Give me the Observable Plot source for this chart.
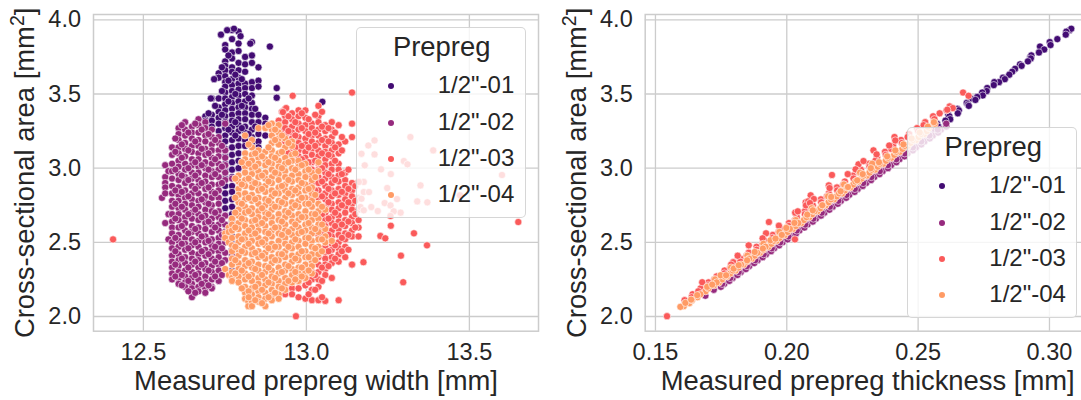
<!DOCTYPE html>
<html><head><meta charset="utf-8">
<script src="https://cdn.jsdelivr.net/npm/d3@7"></script>
<script src="https://cdn.jsdelivr.net/npm/@observablehq/plot@0.6"></script>
<style>
html,body{margin:0;padding:0;background:#fff}
#fig{position:relative;width:1081px;height:400px;overflow:hidden;font-family:"Liberation Sans",Arial,sans-serif;color:#262626}
#fig svg{position:absolute;top:0;overflow:visible}
.legend{position:absolute;width:170px;height:191px;box-sizing:border-box;background:rgba(255,255,255,.8);border:1.3px solid rgba(204,204,204,.8);border-radius:5px}
.legend .t{position:absolute;left:0;width:170px;text-align:center;top:3px;font-size:27.4px;line-height:32px}
.legend .d{position:absolute;left:31px;width:6px;height:6px;border-radius:50%;box-shadow:0 0 0 .6px #fff}
.legend .l{position:absolute;left:81px;font-size:24px;line-height:28px;white-space:nowrap}
</style></head><body><div id="fig"></div>
<script>
const names = ['1/2"-01','1/2"-02','1/2"-03','1/2"-04'];
const colors = ["#430c73","#962a7e","#fa5a5a","#ff9b65"];
const xLabelL = "Measured prepreg width [mm]";
const xLabelR = "Measured prepreg thickness [mm]";
const yLabel = "Cross-sectional area [mm²]";
const legendTitle = "Prepreg";
const yTicks = [2,2.5,3,3.5,4];
const xTicksL = [12.5,13,13.5];
const xTicksR = [0.15,0.2,0.25,0.3];

// width columns (mm) with the areas (mm2) read in each column
const width01 = [12.669,12.690,12.710,12.731,12.751,12.772,12.792,12.812,12.833,12.853,12.874];
const area01 = [
[3.33],[3.35,3.32,3.30],[3.47,3.36,3.32,3.28],
[3.64,3.61,3.47,3.41,3.38,3.34,3.30,3.25,3.20],
[3.83,3.80,3.72,3.69,3.66,3.62,3.58,3.55,3.51,3.47,3.43,3.39,3.35,3.31,3.27,3.22,3.18,3.13,3.08,3.03,2.98,2.93,2.88,2.83,2.78,2.73,2.68,2.62],
[3.93,3.87,3.78,3.74,3.68,3.65,3.60,3.56,3.52,3.48,3.44,3.40,3.36,3.32,3.28,3.24,3.19,3.14,3.09,3.04,2.99,2.94,2.88,2.84,2.79,2.74,2.69,2.65,2.60,2.54,2.49,2.45,2.40,2.31],
[3.92,3.84,3.79,3.71,3.66,3.61,3.57,3.53,3.49,3.45,3.41,3.37,3.33,3.29,3.25,3.20,3.15,3.10,3.05,3.00],
[3.75,3.70,3.65,3.57,3.54,3.50,3.45,3.41,3.37,3.33,3.28,3.24,3.19,3.15],
[3.85,3.76,3.71,3.58,3.54,3.49,3.44,3.40,3.36,3.31,3.26,3.21,3.17],
[3.68,3.59,3.55,3.36,3.31,3.23,3.18,3.14],[3.34,3.30,3.22]];
const extra01 = [[12.738,3.90],[12.757,3.93],[12.778,3.94],[12.798,3.89],[12.828,3.84],[12.888,3.82],[12.717,3.60],[12.909,3.54],[12.909,3.475],[12.707,3.47],[13.049,3.447],[12.741,3.52],[12.761,3.45],[12.782,3.50],[12.802,3.42],[12.823,3.47],[12.741,3.36],[12.720,3.42],[12.700,3.37],[12.782,3.31],[12.802,3.27],[12.823,3.23],[12.843,3.40],[12.843,3.28],[12.761,3.26],[12.782,3.22],[12.761,3.59],[12.782,3.63],[12.802,3.60],[12.741,3.68],[12.761,3.76]];

const width02 = [12.557,12.567,12.577,12.588,12.608,12.628,12.649,12.669,12.690,12.710,12.731,12.751,12.772,12.598,12.618,12.638,12.659,12.679,12.700,12.720,12.741];
const area02 = [
[2.80],[3.02,2.94,2.90,2.87,2.83,2.63],[2.98,2.69,2.52],
[3.14,3.09,3.03,2.98,2.93,2.88,2.83,2.78,2.74,2.69,2.64,2.60,2.56,2.50,2.46,2.41,2.37,2.33,2.29,2.25],
[3.27,3.23,3.19,3.14,3.10,3.05,3.01,2.96,2.92,2.87,2.82,2.78,2.73,2.69,2.65,2.60,2.55,2.51,2.47,2.42,2.38,2.34,2.30,2.26,2.22],
[3.31,3.26,3.22,3.17,3.13,3.08,3.03,2.99,2.94,2.90,2.85,2.80,2.76,2.72,2.67,2.63,2.58,2.53,2.49,2.45,2.40,2.36,2.31,2.27,2.23,2.20],
[3.28,3.24,3.20,3.15,3.11,3.06,3.02,2.97,2.93,2.88,2.83,2.79,2.75,2.70,2.66,2.61,2.57,2.52,2.48,2.43,2.39,2.35,2.30,2.26,2.22,2.19,2.13],
[3.33,3.29,3.24,3.19,3.15,3.10,3.06,3.01,2.97,2.92,2.88,2.83,2.78,2.74,2.69,2.65,2.60,2.56,2.51,2.47,2.42,2.38,2.33,2.29,2.25,2.20,2.17],
[3.31,3.27,3.22,3.18,3.13,3.09,3.04,3.00,2.95,2.91,2.86,2.81,2.77,2.72,2.68,2.63,2.59,2.54,2.50,2.45,2.41,2.36,2.32,2.27,2.23,2.19,2.16],
[3.26,3.21,3.16,3.12,3.07,3.03,2.98,2.94,2.89,2.84,2.80,2.75,2.71,2.66,2.62,2.57,2.52,2.48,2.44,2.39,2.34,2.30,2.25,2.20,2.19],
[3.21,3.17,3.12,3.08,3.03,2.99,2.94,2.89,2.85,2.80,2.76,2.71,2.67,2.62,2.58,2.53,2.49,2.44,2.40,2.35,2.31,2.24],
[3.30,3.12,3.07,3.02,2.97,2.92,2.68,2.62,2.57,2.50,2.43,2.38],
[2.93,2.42],
[3.20,3.11,2.99,2.85,2.76,2.66,2.53,2.44,2.35,2.27],
[3.29,3.16,3.07,2.95,2.84,2.74,2.61,2.49,2.39,2.28,2.21],
[3.24,3.12,3.00,2.92,2.81,2.69,2.56,2.46,2.33,2.24,2.17],
[3.30,3.18,3.04,2.95,2.86,2.72,2.59,2.50,2.37,2.28,2.16],
[3.26,3.13,3.02,2.90,2.79,2.67,2.54,2.44,2.35,2.22],
[3.23,3.10,2.99,2.87,2.76,2.64,2.51,2.42,2.31,2.21],
[3.19,3.06,2.96,2.83,2.70,2.60,2.47,2.37,2.27],
[3.15,3.01,2.90,2.65,2.55,2.46,2.36,2.28]];

const width03 = [12.915,12.925,12.935,12.956,12.976,12.997,13.017,13.037,13.058,13.078,13.099,13.119,13.140,13.160,12.945,12.966,12.986,13.007,13.027,13.048,13.068,13.088,13.109,13.129,13.150];
const area03 = [
[3.32,3.27,3.23,3.18,2.98],[3.38,3.29,3.24],
[3.40,3.35,3.31,3.27,3.22,3.18,3.13,3.09,2.22,2.18,2.15],
[3.37,3.33,3.28,3.24,3.20,3.15,3.11,3.06,2.23,2.19,2.15],
[3.39,3.35,3.30,3.26,3.21,3.17,3.12,3.08,3.03,2.24,2.19,2.13],
[3.39,3.34,3.29,3.25,3.20,3.16,3.11,3.07,3.02,2.97,2.26,2.21,2.12],
[3.30,3.27,3.22,3.18,3.13,3.09,3.04,2.99,2.95,2.90,2.85,2.80,2.30,2.25,2.18,2.11],
[3.42,3.35,3.31,3.26,3.22,3.17,3.12,3.08,3.03,2.99,2.94,2.90,2.85,2.80,2.76,2.71,2.66,2.60,2.55,2.40,2.35,2.30,2.25,2.20,2.11],
[3.29,3.25,3.20,3.15,3.11,3.06,3.02,2.97,2.93,2.88,2.83,2.79,2.74,2.70,2.65,2.61,2.56,2.51,2.47,2.43,2.39,2.35,2.32,2.28,2.105],
[3.31,3.26,3.21,3.17,3.12,3.08,3.03,2.99,2.94,2.90,2.85,2.81,2.76,2.72,2.67,2.63,2.58,2.54,2.49,2.45,2.40,2.36,2.26],
[3.29,3.16,3.10,3.03,2.99,2.95,2.91,2.86,2.82,2.77,2.73,2.68,2.64,2.59,2.55,2.50,2.46,2.42,2.37,2.11],
[3.18,2.97,2.92,2.88,2.83,2.79,2.74,2.70,2.65,2.61,2.56,2.52,2.47,2.40],
[3.51,3.30,3.21,2.90,2.85,2.81,2.76,2.72,2.67,2.63,2.58,2.54,2.35],
[2.80,2.72,2.65,2.60,2.54],
[3.35,3.25,3.16,3.10],[3.31,3.22,3.14],[3.37,3.27,3.15,3.06],[3.33,3.23,3.14,3.04,2.23,2.15],[3.36,3.24,3.15,3.05,2.94,2.85,2.28,2.18],
[3.38,3.28,3.19,3.10,3.00,2.91,2.81,2.69,2.57,2.33,2.24,2.13],[3.27,3.18,3.09,2.96,2.86,2.77,2.66,2.55,2.44,2.34],[3.24,3.14,3.05,2.92,2.83,2.70,2.61,2.48,2.39],
[3.21,3.12,2.96,2.84,2.75,2.62,2.53,2.44],[2.99,2.86,2.77,2.64,2.55,2.45],[2.88,2.78,2.69,2.60]];
const extra03 = [[12.407,2.52],[12.968,2.002],[12.958,3.488],[12.938,3.405],[12.928,3.378],[13.209,3.187],[13.190,3.153],[13.319,3.210],[13.169,3.097],[13.209,3.093],[13.389,3.120],[13.179,3.019],[13.299,3.048],[13.310,3.026],[13.229,2.992],[13.259,2.960],[13.600,2.954],[13.350,2.884],[13.248,2.866],[13.176,2.839],[13.192,2.839],[13.278,2.792],[13.240,2.765],[13.258,2.749],[13.289,2.700],[13.268,2.709],[13.258,2.678],[13.340,2.776],[13.371,2.770],[13.199,2.738],[13.219,2.711],[13.169,2.794],[13.471,2.817],[13.166,2.738],[13.176,2.716],[13.176,2.907],[13.161,2.907],[13.259,2.612],[13.330,2.561],[13.650,2.637],[13.227,2.543],[13.297,2.231],[13.242,2.527],[13.290,2.41],[13.175,2.366],[13.14,2.35],[13.37,2.48]];

const width04 = [12.751,12.762,12.772,12.792,12.812,12.822,12.833,12.853,12.874,12.894,12.915,12.935,12.956,12.976,12.997,13.017,13.037,13.058,13.078,12.782,12.802,12.823,12.843,12.864,12.884,12.904,12.925,12.945,12.966,12.986,13.007,13.027,13.048];
const area04 = [
[2.56,2.53,2.32],[2.60,2.57,2.50,2.28],
[2.66,2.62,2.58,2.53,2.48,2.44,2.39,2.35,2.30,2.26,2.24],
[2.95,2.91,2.86,2.82,2.77,2.72,2.68,2.63,2.59,2.54,2.50,2.45,2.41,2.36,2.32,2.27,2.23],
[3.22,3.10,3.06,3.01,2.97,2.92,2.88,2.83,2.79,2.74,2.70,2.65,2.61,2.56,2.52,2.47,2.43,2.38,2.34,2.29,2.25,2.20,2.16,2.12],
[2.10,2.07],
[3.19,3.14,3.09,3.05,3.00,2.96,2.91,2.87,2.82,2.78,2.73,2.69,2.64,2.60,2.55,2.51,2.46,2.42,2.37,2.33,2.28,2.24,2.19,2.15,2.10,2.07],
[3.27,3.12,3.07,3.03,2.98,2.94,2.89,2.85,2.80,2.76,2.71,2.67,2.62,2.58,2.53,2.49,2.44,2.40,2.35,2.31,2.26,2.22,2.17,2.13,2.10],
[3.27,3.11,3.06,3.02,2.97,2.93,2.88,2.84,2.79,2.75,2.70,2.66,2.61,2.57,2.52,2.48,2.43,2.39,2.34,2.30,2.25,2.21,2.16,2.12,2.07],
[3.30,3.26,3.22,3.17,3.12,3.08,3.03,2.99,2.94,2.90,2.85,2.81,2.76,2.72,2.67,2.63,2.58,2.54,2.49,2.45,2.40,2.36,2.31,2.27,2.22,2.18,2.14,2.11],
[3.29,3.24,3.20,3.16,3.10,3.05,3.01,2.96,2.92,2.87,2.83,2.78,2.74,2.69,2.65,2.60,2.56,2.51,2.47,2.42,2.38,2.33,2.29,2.24,2.20,2.15,2.12],
[3.20,3.14,3.07,3.03,2.98,2.94,2.89,2.85,2.80,2.76,2.71,2.67,2.62,2.58,2.53,2.49,2.44,2.40,2.35,2.31,2.26,2.22,2.18],
[3.18,3.15,3.09,3.05,3.00,2.95,2.91,2.86,2.82,2.77,2.73,2.68,2.64,2.59,2.55,2.50,2.46,2.41,2.37,2.32,2.28,2.23],
[3.05,3.01,2.96,2.92,2.87,2.83,2.78,2.74,2.69,2.65,2.60,2.56,2.51,2.47,2.42,2.38,2.33,2.29,2.24],
[3.03,2.98,2.94,2.89,2.85,2.80,2.76,2.71,2.67,2.62,2.58,2.53,2.49,2.44,2.40,2.35,2.30,2.26],
[2.97,2.92,2.87,2.83,2.78,2.74,2.69,2.65,2.60,2.56,2.51,2.47,2.42,2.37,2.34,2.29],
[3.04,2.98,2.76,2.71,2.66,2.62,2.57,2.52,2.47,2.42],
[2.72,2.59,2.54,2.50],[2.51],
[2.93,2.80,2.70,2.60,2.47,2.38,2.29],
[3.04,2.89,2.76,2.66,2.52,2.44,2.31,2.19],
[3.16,3.03,2.93,2.80,2.71,2.58,2.49,2.36,2.27,2.17,2.13],
[3.10,3.01,2.90,2.79,2.65,2.56,2.43,2.32,2.20,2.11],
[3.08,2.95,2.86,2.73,2.63,2.50,2.41,2.28,2.18,2.09],
[3.29,3.14,3.04,2.91,2.78,2.69,2.56,2.46,2.33,2.23,2.13],
[3.26,3.19,3.07,2.97,2.83,2.74,2.60,2.47,2.38,2.26,2.16],
[3.22,3.11,3.00,2.88,2.77,2.64,2.55,2.42,2.30,2.19],
[3.17,3.04,2.92,2.83,2.70,2.57,2.47,2.34,2.24],
[3.10,2.99,2.85,2.75,2.62,2.52,2.39,2.30,2.25],
[3.02,2.90,2.80,2.67,2.57,2.44,2.33,2.27],
[2.99,2.86,2.76,2.63,2.53,2.40,2.31],
[2.94,2.82,2.69,2.59,2.46,2.38],
[2.74,2.62,2.52,2.44]];

// thickness (mm), area (mm2) pairs of the right panel
const thick01 = [[.3077,3.93],[.3083,3.94],[.3064,3.92],[.3030,3.87],[.3062,3.90],[.3001,3.85],[.2964,3.82],[.3004,3.83],[.2980,3.80],[.2960,3.78],[.2927,3.75],[.2931,3.76],[.2929,3.74],[.2918,3.72],[.2888,3.70],[.2894,3.69],[.2869,3.67],[.2858,3.65],[.2847,3.63],[.2823,3.61],[.2830,3.60],[.2808,3.58],[.2790,3.58],[.2788,3.56],[.2763,3.54],[.2761,3.52],[.2744,3.51],[.2746,3.49],[.2725,3.48],[.2700,3.47],[.2718,3.46],[.2685,3.44],[.2690,3.43],[.2693,3.42],[.2650,3.40],[.2655,3.39],[.2651,3.37],[.2615,3.36],[.2619,3.35],[.2622,3.33],[.2604,3.32],[.2572,3.30],[.2577,3.28],[.2549,3.26],[.2541,3.24],[.2506,3.21],[.2490,3.18],[.2471,3.15],[.2424,3.10],[.2392,3.05],[.2349,3.00],[.2271,2.90],[.2196,2.80],[.2114,2.70]];
const thick02 = [[.1745,2.22],[.1777,2.26],[.1808,2.30],[.1840,2.34],[.1871,2.38],[.1903,2.42],[.1934,2.46],[.1965,2.50],[.1997,2.54],[.2028,2.58],[.2060,2.62],[.2091,2.66],[.2123,2.70],[.2154,2.74],[.2186,2.78],[.2217,2.82],[.2248,2.86],[.2280,2.90],[.2311,2.94],[.2343,2.98],[.2374,3.02],[.2406,3.06],[.2437,3.10],[.2469,3.14],[.2500,3.18],[.2531,3.22],[.2563,3.26],
[.1762,2.22],[.1794,2.26],[.1825,2.30],[.1857,2.34],[.1889,2.38],[.1921,2.42],[.1952,2.46],[.1984,2.50],[.2016,2.54],[.2048,2.58],[.2079,2.62],[.2111,2.66],[.2143,2.70],[.2175,2.74],[.2206,2.78],[.2238,2.82],[.2270,2.86],[.2302,2.90],[.2333,2.94],[.2365,2.98],[.2397,3.02],[.2429,3.06],[.2460,3.10],[.2492,3.14],[.2524,3.18],[.2556,3.22],[.2587,3.26],
[.1749,2.20],[.1781,2.24],[.1812,2.28],[.1844,2.32],[.1876,2.36],[.1908,2.40],[.1940,2.44],[.1971,2.48],[.2003,2.52],[.2035,2.56],[.2067,2.60],[.2099,2.64],[.2130,2.68],[.2162,2.72],[.2194,2.76],[.2226,2.80],[.2258,2.84],[.2289,2.88],[.2321,2.92],[.2353,2.96],[.2385,3.00],[.2417,3.04],[.2448,3.08],[.2480,3.12],[.2512,3.16],[.2544,3.20],[.2576,3.24],[.2607,3.28],
[.1690,2.14],[.1722,2.18],[.1754,2.22],[.1785,2.26],[.1817,2.30],[.1848,2.34],[.1880,2.38],[.1912,2.42],[.1943,2.46],[.1975,2.50],[.2006,2.54],[.2038,2.58],[.2070,2.62],[.2101,2.66],[.2133,2.70],[.2164,2.74],[.2196,2.78],[.2227,2.82],[.2259,2.86],[.2291,2.90],[.2322,2.94],[.2354,2.98],[.2385,3.02],[.2417,3.06],[.2449,3.10],[.2480,3.14],[.2512,3.18],[.2543,3.22],[.2575,3.26],[.2607,3.30]];
const thick03 = [[.1611,2.11],[.1641,2.15],[.1672,2.19],[.1702,2.23],[.1733,2.27],[.1763,2.31],[.1794,2.35],[.1824,2.39],[.1855,2.43],[.1885,2.47],[.1916,2.51],[.1947,2.55],[.1977,2.59],[.2008,2.63],[.2038,2.67],[.2069,2.71],[.2099,2.75],[.2130,2.79],[.2160,2.83],[.2191,2.87],[.2221,2.91],[.2252,2.95],[.2282,2.99],[.2313,3.03],[.2344,3.07],[.2374,3.11],[.2405,3.15],[.2435,3.19],[.2466,3.23],[.2496,3.27],[.2527,3.31],[.2557,3.35],
[.1638,2.13],[.1700,2.21],[.1762,2.29],[.1823,2.37],[.1885,2.45],[.1946,2.53],[.2008,2.61],[.2069,2.69],[.2131,2.77],[.2192,2.85],[.2254,2.93],[.2315,3.01],[.2377,3.09],[.2438,3.17],[.2500,3.25],[.2562,3.33],[.2608,3.39],
[.1663,2.17],[.1724,2.25],[.1785,2.33],[.1847,2.41],[.1908,2.49],[.1969,2.57],[.2031,2.65],[.2092,2.73],[.2153,2.81],[.2215,2.89],[.2276,2.97],[.2337,3.05],[.2398,3.13],[.2460,3.21],[.2521,3.29],[.2582,3.37],
[.1932,2.637],[.2091,2.817],[.2172,2.954],[.2330,3.120],[.2072,2.770],[.2081,2.776],[.2160,2.884],[.2410,3.210],[.2273,3.026],[.2292,3.048],[.1678,2.231],[.2032,2.700],[.2103,2.792],[.2042,2.709],[.2232,2.960],[.2073,2.749],[.2163,2.866],[.2088,2.765],[.2262,2.992],[.2413,3.187],[.2342,3.093],[.2390,3.153],[.2671,3.510],[.2692,3.488],[.2031,2.520],[.1544,2.002],[.1921,2.561],[.1970,2.612],[.1796,2.366],[.1813,2.41],[.1908,2.527],[.1788,2.35],[.2620,3.416],[.2632,3.405],[.2611,3.394],[.1855,2.48]];
const thick04 = [[.1742,2.23],[.1773,2.27],[.1805,2.31],[.1836,2.35],[.1867,2.39],[.1898,2.43],[.1930,2.47],[.1961,2.51],[.1992,2.55],[.2023,2.59],[.2055,2.63],[.2086,2.67],[.2117,2.71],[.2148,2.75],[.2180,2.79],[.2211,2.83],[.2242,2.87],[.2273,2.91],[.2305,2.95],[.2336,2.99],[.2367,3.03],[.2398,3.07],[.2430,3.11],[.2461,3.15],[.2492,3.19],[.2523,3.23],
[.1629,2.09],[.1660,2.13],[.1691,2.17],[.1723,2.21],[.1754,2.25],[.1785,2.29],[.1816,2.33],[.1847,2.37],[.1878,2.41],[.1910,2.45],[.1941,2.49],[.1972,2.53],[.2003,2.57],[.2034,2.61],[.2065,2.65],[.2097,2.69],[.2128,2.73],[.2159,2.77],[.2190,2.81],[.2221,2.85],[.2253,2.89],[.2284,2.93],[.2315,2.97],[.2346,3.01],[.2377,3.05],[.2409,3.09],[.2440,3.13],[.2471,3.17],[.2502,3.21],[.2533,3.25],
[.1727,2.25],[.1788,2.33],[.1850,2.41],[.1911,2.49],[.1972,2.57],[.2034,2.65],[.2095,2.73],[.2157,2.81],[.2218,2.89],[.2279,2.97],[.2325,3.03],
[.1608,2.07],[.1639,2.11],[.1671,2.15],[.1702,2.19],[.1733,2.23],[.1764,2.27],[.1795,2.31],[.1826,2.35],[.1857,2.39],[.1888,2.43],[.1919,2.47],[.1950,2.51],[.1981,2.55],[.2012,2.59],[.2044,2.63],[.2075,2.67],[.2106,2.71],[.2137,2.75],[.2168,2.79],[.2199,2.83],[.2230,2.87],[.2261,2.91],[.2292,2.95],[.2323,2.99],[.2354,3.03],[.2385,3.07],[.2416,3.11],[.2448,3.15],[.2479,3.19],[.2510,3.23],[.2541,3.27],[.2564,3.30],
[.1595,2.065],[.1614,2.092],[.1636,2.114],[.1659,2.144],[.1697,2.200],[.1716,2.215],[.1748,2.278],[.1769,2.278],[.1798,2.323],[.1817,2.346],[.1849,2.379],[.1878,2.435],[.1909,2.458],[.1938,2.514],[.1957,2.525],[.1998,2.597],[.2029,2.631],[.2078,2.687],[.2099,2.716],[.2135,2.750],[.2169,2.806],[.2205,2.844],[.2233,2.873],[.2268,2.918],[.2289,2.96],[.2320,3.00],[.2351,3.04],[.2382,3.08],[.2413,3.12],[.2444,3.16],[.2475,3.20],[.2506,3.24],[.2537,3.28],[.2560,3.31]];

const fromCols = (ws, as, extra = []) => ws.flatMap((w, i) => as[i].map(a => [w, a])).concat(extra);
const leftSets = [fromCols(width01, area01, extra01), fromCols(width02, area02), fromCols(width03, area03, extra03), fromCols(width04, area04)];
const rightSets = [thick01, thick02, thick03, thick04];

const fig = document.getElementById("fig");
const axisColor = "#cccccc";
function panel(o) {
  const svg = Plot.plot({
    width: o.w, height: 400, marginLeft: o.ml, marginRight: o.mr, marginTop: 14, marginBottom: 69.3,
    style: {fontFamily: '"Liberation Sans",Arial,sans-serif', color: "#262626", background: "transparent"},
    x: {domain: o.xd}, y: {domain: [1.901, 4.036]},
    marks: [
      Plot.gridX(o.xt, {stroke: axisColor, strokeOpacity: 1, strokeWidth: 1.3}),
      Plot.gridY(yTicks, {stroke: axisColor, strokeOpacity: 1, strokeWidth: 1.3}),
      Plot.frame({stroke: axisColor, strokeWidth: 1.5}),
      ...o.sets.map((s, i) => Plot.dot(s, {x: d => d[0], y: d => d[1], r: 3.6, fill: colors[i], stroke: "#fff", strokeWidth: 0.8, strokeOpacity: 0.75, clip: true})),
      Plot.axisX({ticks: o.xt, tickSize: 0, tickPadding: 12, tickFormat: o.xf, fontSize: 23.5, label: null, fill: "#262626"}),
      Plot.axisY({ticks: yTicks, tickSize: 0, tickPadding: 12.5, tickFormat: ".1f", fontSize: 23.5, label: null, fill: "#262626"}),
      Plot.text([o.xl], {frameAnchor: "bottom", dy: 58.5, fontSize: 27.4, fill: "#262626", text: d => d}),
      Plot.text([yLabel], {frameAnchor: "left", dx: -68, rotate: -90, textAnchor: "middle", fontSize: 27.4, fill: "#262626", text: d => d})
    ]
  });
  svg.style.left = o.x + "px";
  // typeset the unit's exponent as a raised figure, as in the reference
  svg.querySelectorAll("text").forEach(t => {
    if (t.textContent !== yLabel) return;
    const [head, tail] = yLabel.split("²");
    t.textContent = head;
    const ns = "http://www.w3.org/2000/svg";
    const sup = document.createElementNS(ns, "tspan");
    sup.setAttribute("dy", "-10"); sup.setAttribute("font-size", "19.5"); sup.textContent = "2";
    const end = document.createElementNS(ns, "tspan");
    end.setAttribute("dy", "10"); end.textContent = tail;
    t.append(sup, end);
  });
  fig.appendChild(svg);
}
panel({x: 0, w: 545, ml: 93, mr: 7, xd: [12.347, 13.712], xt: xTicksL, xf: ".1f", xl: xLabelL, sets: leftSets});
panel({x: 550, w: 539.7, ml: 94.7, mr: 0, xd: [0.1461, 0.3155], xt: xTicksR, xf: ".2f", xl: xLabelR, sets: rightSets});

function legend(left, top) {
  const box = document.createElement("div");
  box.className = "legend";
  box.style.left = left + "px"; box.style.top = top + "px";
  const t = document.createElement("div"); t.className = "t"; t.textContent = legendTitle; box.appendChild(t);
  names.forEach((n, i) => {
    const y = 58 + i * 36.4;
    const d = document.createElement("div"); d.className = "d"; d.style.top = (y - 3) + "px"; d.style.background = colors[i]; box.appendChild(d);
    const l = document.createElement("div"); l.className = "l"; l.style.top = (y - 15) + "px"; l.textContent = n; box.appendChild(l);
  });
  fig.appendChild(box);
}
legend(355.7, 27.3);
legend(907.3, 127.3);
</script></body></html>
